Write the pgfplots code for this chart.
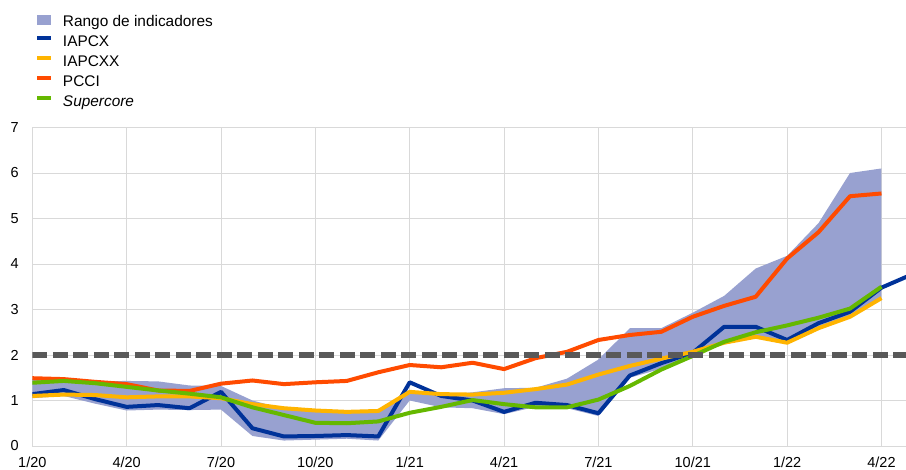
\documentclass[border=0pt]{standalone}
\usepackage{fontspec}
\setmainfont{Liberation Sans}
\usepackage{pgfplots}
\pgfplotsset{compat=1.18}
\definecolor{band}{RGB}{152,161,208}
\definecolor{ecbblue}{RGB}{0,50,153}
\definecolor{ecbyellow}{RGB}{255,180,0}
\definecolor{ecborange}{RGB}{255,75,0}
\definecolor{ecbgreen}{RGB}{101,184,0}
\definecolor{gridc}{RGB}{217,217,217}
\definecolor{dashc}{RGB}{89,89,89}
\pgfplotsset{mylineleg/.style={legend image code/.code={\draw[##1, line width=4bp] (0bp,4.5bp) -- (13.4bp,4.5bp);}}}
\begin{document}
\begin{tikzpicture}
\begin{axis}[
  at={(0,0)}, anchor=south west,
  scale only axis, width=873.7bp, height=318.5bp,
  xmin=0, xmax=27.78, ymin=0, ymax=7,
  axis line style={draw=none},
  xtick={0,3,...,27},
  xticklabels={1/20,4/20,7/20,10/20,1/21,4/21,7/21,10/21,1/22,4/22},
  ytick={0,1,...,7},
  grid=major, major grid style={gridc, line width=1bp},
  major tick length=0pt,
  tick label style={font=\fontsize{14.5bp}{17bp}\selectfont, inner sep=0pt},
  xticklabel style={anchor=base, yshift=-21.5bp},
  yticklabel style={anchor=east, xshift=-13.5bp},
  /pgf/number format/assume math mode=true,
  legend cell align=left,
  legend style={draw=none, fill=none, inner sep=0pt, outer sep=0pt,
    at={(0,1)}, anchor=north west, xshift=3.1bp, yshift=116bp,
    font=\fontsize{15.4bp}{18bp}\selectfont,
    nodes={inner sep=2.9bp, text height=11bp, text depth=3bp},
    row sep=0pt, column sep=0pt,
    /tikz/every odd column/.append style={column sep=7.3bp}},
]
% band
\addplot[fill=band, draw=none,
  legend image code/.code={\fill[band] (0bp,-2.5bp) rectangle (13.4bp,8bp); \path (0bp,11.4bp);}]
  coordinates {(0,1.47) (1,1.45) (2,1.42) (3,1.43) (4,1.42) (5,1.33) (6,1.32) (7,1.00)
   (8,0.82) (9,0.76) (10,0.72) (11,0.74) (12,1.15) (13,1.12) (14,1.18) (15,1.27)
   (16,1.28) (17,1.48) (18,1.90) (19,2.59) (20,2.59) (21,2.93) (22,3.30) (23,3.90)
   (24,4.18) (25,4.90) (26,6.00) (27,6.10)
   (27,3.22) (26,2.82) (25,2.56) (24,2.24) (23,2.38) (22,2.25) (21,1.98) (20,1.70)
   (19,1.50) (18,0.66) (17,0.83) (16,0.86) (15,0.70) (14,0.83) (13,0.85) (12,1.00)
   (11,0.12) (10,0.16) (9,0.14) (8,0.12) (7,0.22) (6,0.80) (5,0.79) (4,0.80)
   (3,0.78) (2,0.93) (1,1.10) (0,1.05)} -- cycle;
\addlegendentry{Rango de indicadores}
% IAPCX
\addplot[ecbblue, line width=4bp, line join=round, mylineleg]
  coordinates {(0,1.14) (1,1.23) (2,1.03) (3,0.86) (4,0.90) (5,0.83) (6,1.19) (7,0.39)
   (8,0.21) (9,0.22) (10,0.24) (11,0.21) (12,1.40) (13,1.10) (14,1.00) (15,0.75)
   (16,0.95) (17,0.90) (18,0.72) (19,1.55) (20,1.82) (21,2.05) (22,2.62) (23,2.62)
   (24,2.33) (25,2.70) (26,2.95) (27,3.48) (28,3.78)};
\addlegendentry{IAPCX}
% IAPCXX
\addplot[ecbyellow, line width=4bp, line join=round, mylineleg]
  coordinates {(0,1.10) (1,1.13) (2,1.12) (3,1.07) (4,1.09) (5,1.09) (6,1.05) (7,0.92)
   (8,0.83) (9,0.78) (10,0.75) (11,0.77) (12,1.19) (13,1.14) (14,1.13) (15,1.17)
   (16,1.25) (17,1.35) (18,1.57) (19,1.76) (20,1.92) (21,2.07) (22,2.27) (23,2.40)
   (24,2.27) (25,2.59) (26,2.84) (27,3.25)};
\addlegendentry{IAPCXX}
% PCCI
\addplot[ecborange, line width=4bp, line join=round, mylineleg]
  coordinates {(0,1.49) (1,1.47) (2,1.41) (3,1.36) (4,1.22) (5,1.21) (6,1.37) (7,1.44)
   (8,1.36) (9,1.40) (10,1.43) (11,1.62) (12,1.78) (13,1.73) (14,1.83) (15,1.69)
   (16,1.93) (17,2.07) (18,2.33) (19,2.44) (20,2.51) (21,2.84) (22,3.08) (23,3.28)
   (24,4.12) (25,4.70) (26,5.49) (27,5.55)};
\addlegendentry{PCCI}
% Supercore
\addplot[ecbgreen, line width=4bp, line join=round, mylineleg]
  coordinates {(0,1.39) (1,1.43) (2,1.38) (3,1.30) (4,1.22) (5,1.15) (6,1.07) (7,0.85)
   (8,0.68) (9,0.51) (10,0.50) (11,0.54) (12,0.73) (13,0.86) (14,1.01) (15,0.92)
   (16,0.85) (17,0.85) (18,1.02) (19,1.32) (20,1.68) (21,1.98) (22,2.29) (23,2.50)
   (24,2.65) (25,2.82) (26,3.02) (27,3.50)};
\addlegendentry{\textit{Supercore}}
% 2% reference
\addplot[dashc, line width=5.3bp, dash pattern=on 15bp off 5.5bp, forget plot]
  coordinates {(0,2) (27.78,2)};
\end{axis}
\pgfresetboundingbox
\path[use as bounding box] (-32.3bp,-24bp) rectangle (873.7bp,446bp);
\end{tikzpicture}
\end{document}
